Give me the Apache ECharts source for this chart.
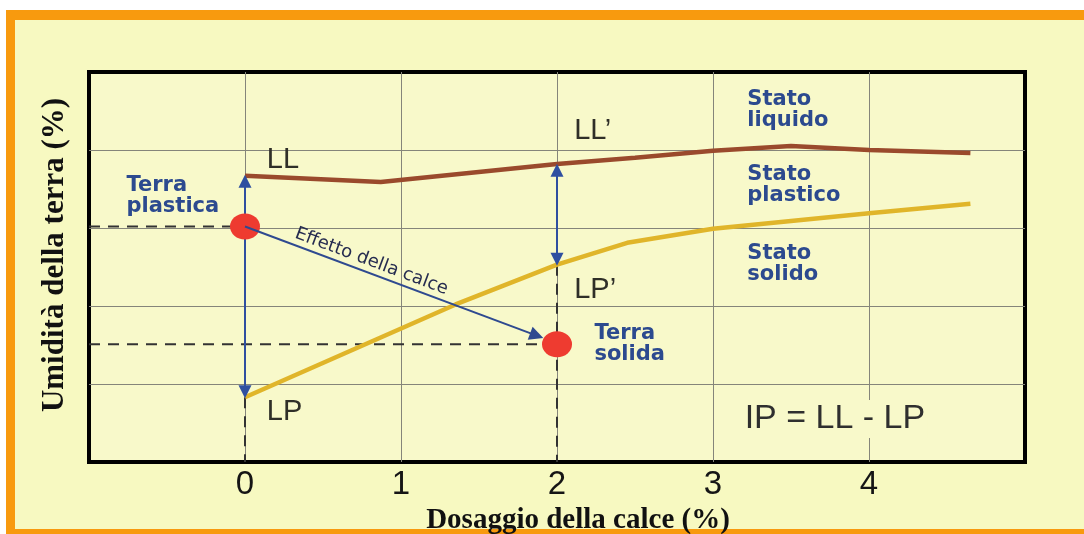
<!DOCTYPE html>
<html><head><meta charset="utf-8">
<script src="https://cdn.jsdelivr.net/npm/echarts@6/dist/echarts.min.js"></script>
<style>html,body{margin:0;padding:0;background:#fff}#c{width:1084px;height:534px}</style>
</head><body><div id="c"></div>
<script>
// ---- data ----
const xTickLabels = [0, 1, 2, 3, 4];
const llX = [0, 0.87, 2, 2.5, 3, 3.5, 4, 4.65];
const llY = [3.67, 3.59, 3.82, 3.90, 3.99, 4.05, 4.00, 3.96];
const lpX = [0, 1.35, 2, 2.45, 3, 4, 4.65];
const lpY = [0.83, 2.02, 2.53, 2.81, 2.99, 3.19, 3.31];
const soilX = [0, 2];
const soilY = [3.02, 1.51];
// double arrows between LL and LP at dosage 0 and 2
const arrowX = [0, 2];
const arrowTop = [3.60, 3.74];
const arrowBottom = [0.90, 2.60];
// effect arrow
const effectFrom = [0, 3.02];
const effectTo = [1.87, 1.62];
// annotation texts
const blueTexts = ['Terra\nplastica', 'Terra\nsolida', 'Stato\nliquido', 'Stato\nplastico', 'Stato\nsolido'];
const blueX = [-0.76, 2.24, 3.22, 3.22, 3.22];
const blueY = [3.41, 1.51, 4.51, 3.55, 2.54];
const limitTexts = ['LL', "LL\u2019", 'LP', "LP\u2019"];
const limitX = [0.14, 2.11, 0.14, 2.11];
const limitY = [3.87, 4.25, 0.64, 2.21];
const formulaText = 'IP = LL - LP';
const formulaPos = [3.19, 0.55];
const effectText = 'Effetto della calce';
const effectPos = [0.81, 2.57];

const chart = echarts.init(document.getElementById('c'), null, {renderer: 'canvas'});
const pairs = (xs, ys) => xs.map((x, i) => [x, ys[i]]);
const dashStyle = {color: '#333', width: 2, type: [11, 8]};
const solid = {opacity: 1};

const option = {
  animation: false,
  graphic: {elements: [
    {type: 'rect', z: -20, shape: {x: 6, y: 10, width: 1078, height: 524}, style: {fill: '#f89a0e'}},
    {type: 'rect', z: -19, shape: {x: 15, y: 20, width: 1069, height: 509}, style: {fill: '#f7f9c1'}}
  ]},
  grid: {left: 89, right: 59, top: 72, bottom: 72, outerBoundsMode: 'none', containLabel: false,
         show: true, borderColor: '#000', borderWidth: 4, backgroundColor: '#f8f9ca'},
  xAxis: {
    type: 'value', min: -1, max: 5, interval: 1,
    axisLine: {show: false}, axisTick: {show: false},
    splitLine: {show: true, showMinLine: false, showMaxLine: false, lineStyle: {color: '#85857a', width: 1}},
    axisLabel: {
      margin: 6, fontSize: 33, color: '#151515', fontFamily: 'Liberation Sans',
      formatter: v => xTickLabels.includes(v) ? String(v) : ''
    },
    name: 'Dosaggio della calce (%)', nameLocation: 'middle', nameGap: 38,
    nameTextStyle: {fontFamily: 'Liberation Serif', fontWeight: 'bold', fontSize: 29, color: '#111', padding: [0, 0, 0, 42]}
  },
  yAxis: {
    type: 'value', min: 0, max: 5, interval: 1,
    axisLine: {show: false}, axisTick: {show: false}, axisLabel: {show: false},
    splitLine: {show: true, showMinLine: false, showMaxLine: false, lineStyle: {color: '#85857a', width: 1}},
    name: 'Umidità della terra (%)', nameLocation: 'middle', nameGap: 19,
    nameTextStyle: {fontFamily: 'Liberation Serif', fontWeight: 'bold', fontSize: 31, color: '#111', padding: [0, 0, 0, 24]}
  },
  series: [
    // dashed reference lines
    {type: 'line', z: 3, symbol: 'none', lineStyle: dashStyle, data: [[-1, soilY[0]], [soilX[0], soilY[0]]]},
    {type: 'line', z: 3, symbol: 'none', lineStyle: dashStyle, data: [[-1, soilY[1]], [soilX[1], soilY[1]]]},
    {type: 'line', z: 3, symbol: 'none', lineStyle: dashStyle, data: [[lpX[0], lpY[0]], [lpX[0], 0]]},
    {type: 'line', z: 3, symbol: 'none', lineStyle: dashStyle, data: [[lpX[2], lpY[2]], [lpX[2], 0]]},
    // LL and LP
    {name: 'LL', type: 'line', z: 4, symbol: 'none', lineStyle: {color: '#9a4a2c', width: 4.5}, data: pairs(llX, llY)},
    {name: 'LP', type: 'line', z: 4, symbol: 'none', lineStyle: {color: '#e0b52a', width: 4.5}, data: pairs(lpX, lpY)},
    // vertical double arrows
    {type: 'lines', coordinateSystem: 'cartesian2d', z: 5, symbol: ['triangle', 'triangle'], symbolSize: 13,
     lineStyle: {color: '#2f4fa0', width: 2, opacity: 1},
     data: arrowX.map((x, i) => ({coords: [[x, arrowTop[i]], [x, arrowBottom[i]]]}))},
    // soil state points
    {type: 'scatter', z: 6, symbolSize: [30, 26], itemStyle: {color: '#ee3b30', opacity: 1}, data: pairs(soilX, soilY)},
    // effect arrow
    {type: 'lines', coordinateSystem: 'cartesian2d', z: 7, symbol: ['none', 'triangle'], symbolSize: 14,
     lineStyle: {color: '#2f4a90', width: 2, opacity: 1},
     data: [{coords: [effectFrom, effectTo]}]},
    // annotations
    {type: 'scatter', z: 8, symbolSize: 0, silent: true, itemStyle: solid, data: pairs(blueX, blueY).map((p, i) => ({value: p, name: blueTexts[i]})),
     label: {show: true, position: 'right', distance: 0, formatter: p => p.name, fontFamily: 'DejaVu Sans', fontWeight: 'bold', fontSize: 21, lineHeight: 21, color: '#2c4a8f'}},
    {type: 'scatter', z: 8, symbolSize: 0, silent: true, itemStyle: solid, data: pairs(limitX, limitY).map((p, i) => ({value: p, name: limitTexts[i]})),
     label: {show: true, position: 'right', distance: 0, formatter: p => p.name, fontFamily: 'Liberation Sans', fontSize: 29, color: '#2f2f28'}},
    {type: 'scatter', z: 8, symbolSize: 0, silent: true, itemStyle: solid, data: [{value: formulaPos, name: formulaText}],
     label: {show: true, position: 'right', distance: 0, formatter: p => p.name, fontFamily: 'Liberation Sans', fontSize: 34, color: '#2f2f2f', backgroundColor: '#f8f9ca', padding: [2, 2]}},
    {type: 'scatter', z: 8, symbolSize: 0, silent: true, itemStyle: solid, data: [{value: effectPos, name: effectText}],
     label: {show: true, position: 'inside', rotate: -20.5, formatter: p => p.name, fontFamily: 'DejaVu Sans', fontSize: 18, color: '#262c50'}}
  ]
};
chart.setOption(option);
</script>
</body></html>
